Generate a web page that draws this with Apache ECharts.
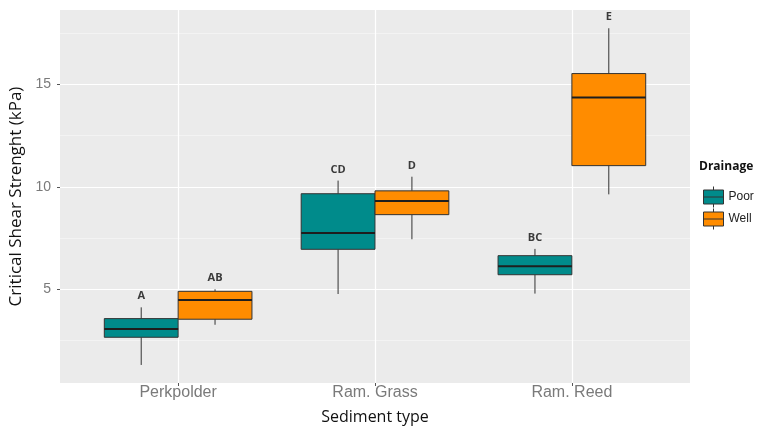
<!DOCTYPE html>
<html>
<head>
<meta charset="utf-8">
<script src="https://cdn.jsdelivr.net/npm/echarts@6/dist/echarts.min.js"></script>
<style>
  html, body { margin: 0; padding: 0; background: #ffffff; }
  #chart { width: 757px; height: 427px; }
</style>
</head>
<body>
<div id="chart"></div>
<script>
// Sediment types along the x axis
const categories = ['Perkpolder', 'Ram. Grass', 'Ram. Reed'];
const groups = ['Poor', 'Well'];

// Box statistics per sediment type: [lower whisker, Q1, median, Q3, upper whisker] (kPa)
const poorStats = [
  [1.31, 2.66, 3.06, 3.57, 4.12],
  [4.77, 6.95, 7.75, 9.66, 10.30],
  [4.79, 5.71, 6.12, 6.64, 6.97]
];
const wellStats = [
  [3.27, 3.54, 4.48, 4.90, 5.00],
  [7.44, 8.64, 9.31, 9.80, 10.49],
  [9.63, 11.03, 14.35, 15.52, 17.73]
];

// Significance group letters above each box
const poorLetters = ['A', 'CD', 'BC'];
const wellLetters = ['AB', 'D', 'E'];

// Axis ticks
const yTicks = [5, 10, 15];
const yMinorTicks = [2.5, 7.5, 12.5, 17.5];
const xTicks = [1, 2, 3];

const BOX_W = 0.375;          // box width in category units (dodge width 0.75)
const OUTLINE = '#333333';
const COLORS = { Poor: '#008B8B', Well: '#FF8C00' };

function boxRenderer(offset, letters) {
  return function (params, api) {
    const x = api.value(0) + offset;
    const lo = api.coord([x, api.value(1)]);
    const q1 = api.coord([x, api.value(2)]);
    const md = api.coord([x, api.value(3)]);
    const q3 = api.coord([x, api.value(4)]);
    const hi = api.coord([x, api.value(5)]);
    const w = api.size([BOX_W, 0])[0];
    const cx = lo[0];
    const left = cx - w / 2;
    const fill = api.visual('color');
    return {
      type: 'group',
      children: [
        { type: 'line', shape: { x1: cx, y1: hi[1], x2: cx, y2: q3[1] },
          style: { stroke: OUTLINE, lineWidth: 1 } },
        { type: 'line', shape: { x1: cx, y1: q1[1], x2: cx, y2: lo[1] },
          style: { stroke: OUTLINE, lineWidth: 1 } },
        { type: 'rect', shape: { x: left, y: q3[1], width: w, height: q1[1] - q3[1] },
          style: { fill: fill, stroke: OUTLINE, lineWidth: 1 } },
        { type: 'line', shape: { x1: left, y1: md[1], x2: left + w, y2: md[1] },
          style: { stroke: '#1e1e1e', lineWidth: 2 } },
        { type: 'text', x: cx, y: hi[1] - 11,
          style: { text: letters[params.dataIndex], align: 'center', verticalAlign: 'middle',
                   font: 'bold 11px "Open Sans", sans-serif', fill: '#3a3a3a' } }
      ]
    };
  };
}

function toData(stats) {
  return stats.map((s, i) => [i + 1].concat(s));
}

// Legend key: small box with median line and whisker stubs
const legendIcon = 'path://M10,0 L10,3.5 M0,3.5 L20,3.5 L20,17.5 L0,17.5 Z M0,10.5 L20,10.5 M10,17.5 L10,21';

const chart = echarts.init(document.getElementById('chart'), null, { renderer: 'canvas' });

chart.setOption({
  animation: false,
  backgroundColor: '#ffffff',
  title: {
    text: 'Drainage',
    left: 699,
    top: 161,
    padding: 0,
    textStyle: { fontFamily: 'Open Sans', fontWeight: 'bold', fontSize: 12, color: '#111111' }
  },
  legend: {
    orient: 'vertical',
    left: 703,
    top: 186,
    padding: 0,
    itemWidth: 20,
    itemHeight: 21,
    itemGap: 0,
    icon: legendIcon,
    itemStyle: { borderColor: OUTLINE, borderWidth: 1 },
    textStyle: { fontFamily: 'Liberation Sans', fontSize: 12, color: '#222222' },
    data: groups
  },
  grid: {
    left: 60, right: 67, top: 10, bottom: 44,
    containLabel: false,
    outerBoundsMode: 'none',
    show: true, backgroundColor: '#EBEBEB', borderWidth: 0
  },
  xAxis: {
    type: 'value',
    min: 0.4,
    max: 3.6,
    name: 'Sediment type',
    nameLocation: 'middle',
    nameGap: 26,
    nameTextStyle: { fontFamily: 'Open Sans', fontSize: 16, color: '#111111' },
    axisLine: { show: false },
    axisTick: { show: true, length: 3, customValues: xTicks, lineStyle: { color: '#555555' } },
    axisLabel: {
      customValues: xTicks,
      margin: 2,
      fontFamily: 'Liberation Sans', fontSize: 16, color: '#7a7a7a',
      formatter: v => categories[Math.round(v) - 1] || ''
    },
    splitLine: { show: true, lineStyle: { color: '#ffffff', width: 1.2 } }
  },
  yAxis: [
    {
      type: 'value',
      min: 0.43,
      max: 18.62,
      name: 'Critical Shear Strenght (kPa)',
      nameLocation: 'middle',
      nameGap: 30,
      nameTextStyle: { fontFamily: 'Open Sans', fontSize: 17, color: '#111111' },
      axisLine: { show: false },
      axisTick: { show: true, length: 3, customValues: yTicks, lineStyle: { color: '#555555' } },
      axisLabel: {
        customValues: yTicks,
        margin: 9,
        fontFamily: 'Liberation Sans', fontSize: 14, color: '#7a7a7a'
      },
      splitLine: { show: true, lineStyle: { color: '#ffffff', width: 1.2 } }
    },
    {
      type: 'value',
      min: 0.43,
      max: 18.62,
      position: 'left',
      axisLine: { show: false },
      axisTick: { show: false, customValues: yMinorTicks },
      axisLabel: { show: false, customValues: yMinorTicks },
      splitLine: { show: true, lineStyle: { color: '#f7f7f7', width: 0.7 } }
    }
  ],
  series: [
    {
      name: 'Poor',
      type: 'custom',
      itemStyle: { color: COLORS.Poor, borderColor: OUTLINE, borderWidth: 1 },
      renderItem: boxRenderer(-BOX_W / 2, poorLetters),
      encode: { x: 0, y: [1, 2, 3, 4, 5] },
      data: toData(poorStats)
    },
    {
      name: 'Well',
      type: 'custom',
      itemStyle: { color: COLORS.Well, borderColor: OUTLINE, borderWidth: 1 },
      renderItem: boxRenderer(BOX_W / 2, wellLetters),
      encode: { x: 0, y: [1, 2, 3, 4, 5] },
      data: toData(wellStats)
    }
  ]
});
</script>
</body>
</html>
